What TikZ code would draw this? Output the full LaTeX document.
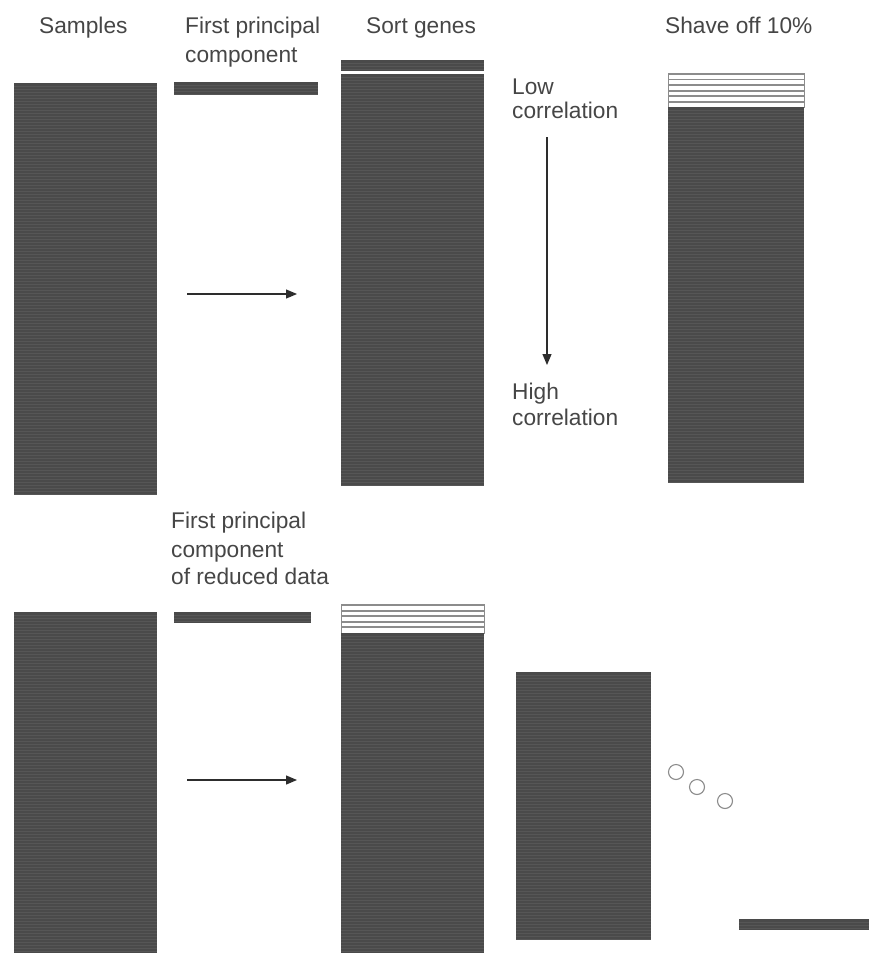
\documentclass[tikz,border=0pt]{standalone}
\usepackage{fontspec}
\setmainfont{Liberation Sans}
\usetikzlibrary{arrows.meta}
\definecolor{matgray}{RGB}{74,74,74}
\definecolor{matline}{RGB}{86,86,86}
\definecolor{hatchgray}{RGB}{140,140,140}
\definecolor{txtgray}{RGB}{70,70,70}
\definecolor{arrgray}{RGB}{45,45,45}
\begin{document}
\begin{tikzpicture}[x=1bp,y=-1bp,
  mat/.style={rectangle, inner sep=0pt, outer sep=0pt, anchor=north west, fill=matgray,
    path picture={\foreach \k in {1,...,140}
      \draw[matline, line width=0.6bp]
        ([yshift=-\k*3bp]path picture bounding box.north west) --
        ([yshift=-\k*3bp]path picture bounding box.north east);}},
  hatch/.style={rectangle, inner sep=0pt, outer sep=0pt, anchor=north west, fill=white, draw=hatchgray, line width=1bp},
  hline/.style={draw=hatchgray, line width=1.9bp},
  lbl/.style={font=\fontsize{22.7bp}{28bp}\selectfont, text=txtgray, inner sep=0pt, anchor=base west},
  arr/.style={draw=arrgray, line width=1.2bp, -{Triangle[length=11bp, width=9bp]}},
  dot/.style={circle, draw=hatchgray, line width=1.1bp, minimum size=15bp, inner sep=0pt}
]
\useasboundingbox[fill=white] (0,0) rectangle (869,953);

% titles
\node[lbl] (tSamples) at (39,33) {Samples};
\node[lbl] (tFpc1) at (185,33) {First principal};
\node[lbl] (tFpc2) at (185,62) {component};
\node[lbl] (tSort) at (366,33) {Sort genes};
\node[lbl] (tShave) at (665,33) {Shave off 10\%};
\node[lbl] (tLow1) at (512,94) {Low};
\node[lbl] (tLow2) at (512,118) {correlation};
\node[lbl] (tHigh1) at (512,399) {High};
\node[lbl] (tHigh2) at (512,425) {correlation};
\node[lbl] (tRed1) at (171,528) {First principal};
\node[lbl] (tRed2) at (171,557) {component};
\node[lbl] (tRed3) at (171,584) {of reduced data};

% top row
\node[mat, minimum width=143bp, minimum height=412bp] (m1) at (14,83) {};
\node[mat, minimum width=144bp, minimum height=12bp] (pc1) at (174,82) {};
\node[mat, minimum width=143bp, minimum height=11bp] (sgbar) at (341,60) {};
\node[mat, minimum width=143bp, minimum height=412bp] (sg1) at (341,74) {};
\node[hatch, minimum width=136bp, minimum height=34bp] (sh1) at (668,73) {};
\foreach \yy in {74,79.5,85,90.6,96.2,101.7}
  \draw[hline] (668,\yy) -- (804,\yy);
\node[mat, minimum width=136bp, minimum height=375bp] (sh2) at (668,107) {};

% bottom row
\node[mat, minimum width=143bp, minimum height=341bp] (m2) at (14,612) {};
\node[mat, minimum width=137bp, minimum height=11bp] (pc2) at (174,612) {};
\node[hatch, minimum width=143bp, minimum height=29bp] (sg2h) at (341,604) {};
\foreach \yy in {605,610.7,616.2,621.7,627.3}
  \draw[hline] (341,\yy) -- (484,\yy);
\node[mat, minimum width=143bp, minimum height=320bp] (sg2) at (341,633) {};
\node[mat, minimum width=135bp, minimum height=268bp] (m4) at (516,672) {};
\node[mat, minimum width=130bp, minimum height=11bp] (bar) at (739,919) {};

% dots
\node[dot] (c1) at (676,772) {};
\node[dot] (c2) at (697,787) {};
\node[dot] (c3) at (725,801) {};

% arrows
\coordinate (a1s) at (187,294);
\coordinate (a1e) at (297,294);
\coordinate (a2s) at (187,780);
\coordinate (a2e) at (297,780);
\coordinate (vs) at (547,137);
\coordinate (ve) at (547,365);
\draw[arr] (a1s) -- (a1e);
\draw[arr] (a2s) -- (a2e);
\draw[arr] (vs) -- (ve);
\end{tikzpicture}
\end{document}
